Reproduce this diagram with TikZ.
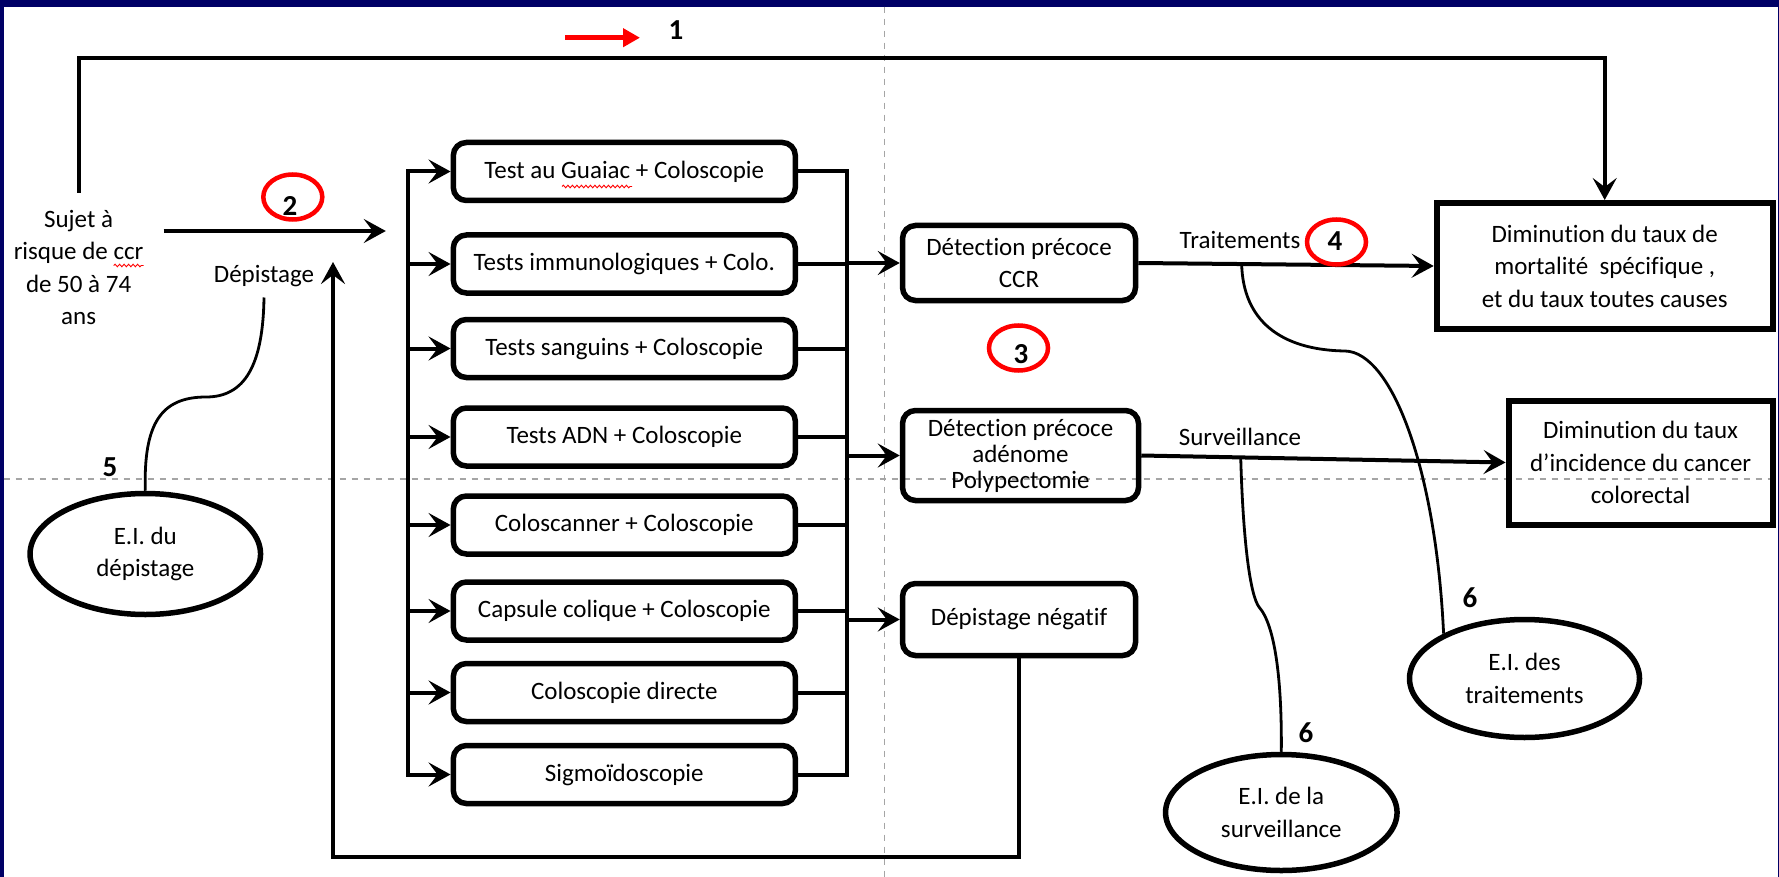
\documentclass[tikz,border=0pt]{standalone}
\usepackage{fontspec}
\setmainfont{Carlito}[Ligatures=NoCommon]
\usetikzlibrary{arrows.meta,shapes.geometric,decorations.pathmorphing,calc}
\definecolor{navy}{RGB}{0,0,102}
\definecolor{guide}{RGB}{165,165,165}
\begin{document}
\begin{tikzpicture}[x=1pt,y=-1pt,
  every node/.style={font=\fontsize{25}{32.5}\selectfont},
  conn/.style={line width=4pt},
  bus/.style={line width=4pt,line cap=rect},
  arr/.style={line width=4pt,-{Stealth[length=22pt,width=24pt,inset=9pt]}},
  testbox/.style={draw,line width=5.5pt,rounded corners=13pt,minimum width=342pt,minimum height=58pt,inner sep=0pt},
  detbox/.style={draw,line width=5.5pt,rounded corners=13pt,inner sep=0pt,align=center},
  resbox/.style={draw,line width=6pt,inner sep=0pt,align=center},
  eibox/.style={draw,ellipse,line width=5.5pt,inner sep=0pt,align=center},
  ring/.style={draw=red,ellipse,line width=4.5pt,minimum width=59pt,minimum height=45pt,inner sep=0pt},
  num/.style={font=\fontsize{29}{30}\selectfont\bfseries,inner sep=0pt},
  curve/.style={line width=2.8pt},
  guideline/.style={draw=guide,line width=1.3pt,dash pattern=on 6pt off 6pt},
  wavy/.style={draw=red,line width=0.9pt,decorate,decoration={snake,amplitude=1.3pt,segment length=4.5pt}}
]
% background and frame
\fill[navy] (0,0) rectangle (1779,877);
\fill[white] (3.5,6.7) rectangle (1777.5,877);
\useasboundingbox (0,0) rectangle (1779,877);

% guide lines
\draw[guideline] (884.3,6.7) -- (884.3,877);
\draw[guideline] (3.5,479) -- (1777.5,479);

% test boxes
\node[testbox] (t1) at (624.3,171.5) {Test au Guaiac + Coloscopie};
\node[testbox] (t2) at (624.3,264) {Tests immunologiques + Colo.};
\node[testbox] (t3) at (624.3,348.5) {Tests sanguins + Coloscopie};
\node[testbox] (t4) at (624.3,437) {Tests ADN + Coloscopie};
\node[testbox] (t5) at (624.3,525) {Coloscanner + Coloscopie};
\node[testbox] (t6) at (624.3,611) {Capsule colique + Coloscopie};
\node[testbox] (t7) at (624.3,692.5) {Coloscopie directe};
\node[testbox] (t8) at (624.3,774.5) {Sigmoïdoscopie};
\draw[wavy] (562,186.5) -- (632,186.5);

% buses
\coordinate (lb) at (407.6,0);
\coordinate (rb) at (846.7,0);
\draw[bus] (t1.west -| lb) -- (t8.west -| lb);
\draw[bus] (t1.east -| rb) -- (t8.east -| rb);
\foreach \i in {1,...,8} \draw[arr] (t\i.west -| lb) -- (t\i.west);
\foreach \i in {1,...,8} \draw[conn] (t\i.east) -- (t\i.east -| rb);

% detection boxes
\node[detbox,minimum width=233pt,minimum height=75pt] (d1) at (1019,263) {Détection précoce\\CCR};
\node[detbox,minimum width=236pt,minimum height=90pt,font=\fontsize{25}{26}\selectfont] (d2) at (1020.5,455.5) {Détection précoce\\adénome\\Polypectomie};
\node[detbox,minimum width=233pt,minimum height=72pt] (d3) at (1019,619.5) {Dépistage négatif};
\draw[arr] (d1.west -| rb) -- (d1.west);
\draw[arr] (d2.west -| rb) -- (d2.west);
\draw[arr] (d3.west -| rb) -- (d3.west);

% result boxes
\node[resbox,minimum width=336pt,minimum height=126pt] (R1) at (1604.7,266) {Diminution du taux de\\mortalité\ \ spécifique ,\\et du taux toutes causes};
\node[resbox,minimum width=264pt,minimum height=124pt] (R2) at (1640.6,462.5) {Diminution du taux\\d’incidence du cancer\\colorectal};

\draw[arr] (d1.east) -- coordinate[pos=0.35] (tj) (R1.west);
\draw[arr] (d2.east) -- coordinate[pos=0.273] (sj) (R2.west);
\node[anchor=base] (lt) at (1240,248) {Traitements};
\node[anchor=base] (ls) at (1240,445) {Surveillance};

% subject and top arrow
\node[align=center,anchor=north,inner xsep=0pt,inner ysep=17pt] (subj) at (78.6,193) {Sujet à\\risque de ccr\\de 50 à 74\\ans};
\draw[wavy] (113.7,265.5) -- (143.5,265.5);
\coordinate (top) at (0,58);
\draw[arr] (subj.north) |- (R1.north |- top) -- (R1.north);

% arrow 2 and depistage
\coordinate (a2s) at (163.6,231);
\coordinate (a2e) at (385.8,231);
\draw[arr] (a2s) -- (a2e);
\node[ring] (r2) at (292.8,197) {};
\node[num] (n2) at (290,206) {2};
\node[anchor=base,inner ysep=10pt] (dep) at (264,283) {Dépistage};

% feedback loop
\coordinate (a5) at (333,262);
\coordinate (loopL) at (333,857);
\draw[arr,line width=3.5pt] (d3.south) |- (loopL) -- (a5);

% E.I. du depistage
\node[eibox,minimum width=230.5pt,minimum height=121pt] (e5) at (145.3,554) {E.I. du\\dépistage};
\draw[curve] (e5.north) .. controls (143.5,425) and (160,397) .. (206,397) .. controls (245,397) and (263,365) .. (dep.south);
\node[num] (n5) at (110,467) {5};

% red arrow and 1
\coordinate (ra1) at (565,37.7);
\coordinate (ra2) at (640,37.7);
\draw[red,line width=5.5pt,-{Triangle[length=17pt,width=18pt]}] (ra1) -- (ra2);
\node[num] (n1) at (676,30) {1};

% rings 3 and 4
\node[ring] (r3) at (1018.5,348) {};
\node[num] (n3) at (1021,354) {3};
\node[ring] (r4) at (1336.5,242) {};
\node[num] (n4) at (1335,241) {4};

% E.I. des traitements
\node[eibox,minimum width=230pt,minimum height=118pt] (e6t) at (1524.5,678.5) {E.I. des\\traitements};
\draw[curve] (tj) .. controls (1243,320) and (1280,350) .. (1345,351) .. controls (1392,352) and (1436,470) .. (e6t.151);
\node[num] (n6a) at (1470,598) {6};

% E.I. de la surveillance
\node[eibox,minimum width=231.5pt,minimum height=116pt] (e6s) at (1281.3,812.5) {E.I. de la\\surveillance};
\draw[curve] (sj) .. controls (1243,540) and (1250,595) .. (1259,607) .. controls (1275,625) and (1282,680) .. (e6s.north);
\node[num] (n6b) at (1306,733) {6};
\end{tikzpicture}
\end{document}
